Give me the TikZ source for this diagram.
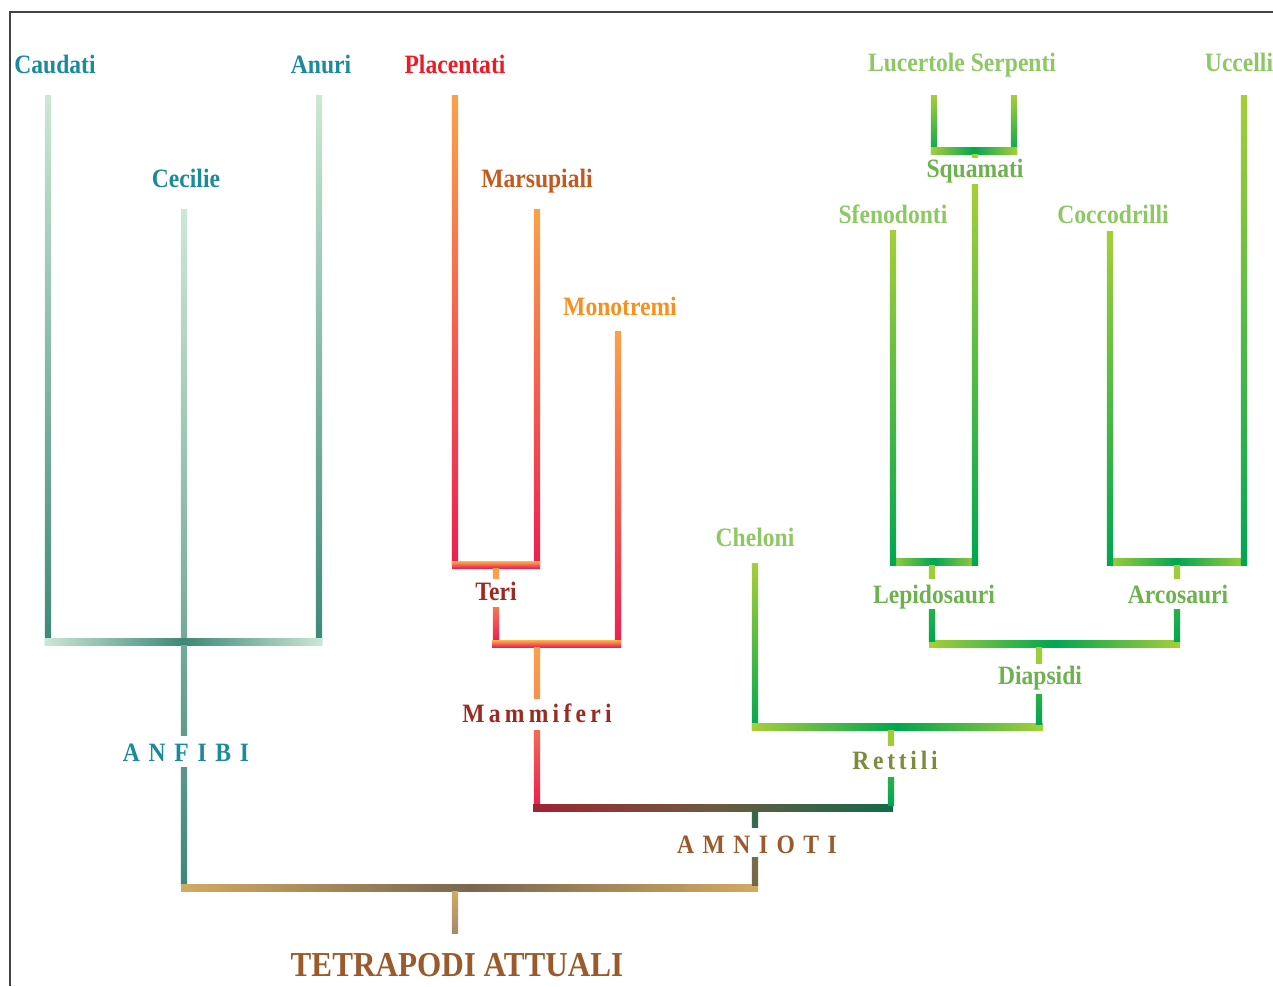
\documentclass[tikz,border=0pt]{standalone}
\usepackage{fontspec}
\setmainfont{Liberation Serif}[FakeStretch=0.89]
\definecolor{aL}{HTML}{CCE7D5}
\definecolor{aD}{HTML}{3D8877}
\definecolor{aM}{HTML}{74AA9A}
\definecolor{aM2}{HTML}{5F9B8B}
\definecolor{aM3}{HTML}{5A978A}
\definecolor{tT}{HTML}{D2AA62}
\definecolor{tB}{HTML}{7A6650}
\definecolor{tS}{HTML}{A8896A}
\definecolor{mO}{HTML}{F9A24A}
\definecolor{mO2}{HTML}{F8A04C}
\definecolor{mO3}{HTML}{F79050}
\definecolor{mR}{HTML}{ED1E52}
\definecolor{mS1}{HTML}{F47858}
\definecolor{mS2}{HTML}{F26B55}
\definecolor{amL}{HTML}{9E2332}
\definecolor{amM}{HTML}{6E5A40}
\definecolor{amR}{HTML}{13694A}
\definecolor{amS1}{HTML}{2D6A48}
\definecolor{amS2}{HTML}{3C6A4C}
\definecolor{amS3}{HTML}{7A6A4C}
\definecolor{amS4}{HTML}{756849}
\definecolor{rY}{HTML}{A6CE39}
\definecolor{rG}{HTML}{00A651}
\definecolor{rS}{HTML}{A0CC3A}
\definecolor{rS2}{HTML}{2AB04A}
\definecolor{cAmph}{HTML}{1A8A9C}
\definecolor{cPlac}{HTML}{ED1C24}
\definecolor{cMars}{HTML}{C25A1F}
\definecolor{cMono}{HTML}{F7901E}
\definecolor{cMamm}{HTML}{9B2B22}
\definecolor{cRepL}{HTML}{8DC865}
\definecolor{cRepD}{HTML}{6DB24E}
\definecolor{cRett}{HTML}{7E8A3C}
\definecolor{cBrown}{HTML}{9A5A2B}
\definecolor{frameC}{HTML}{444444}
\newcommand\myvseg[5]{\shade[top color=#4,bottom color=#5] ({#1-3.2},#2) rectangle ({#1+3.2},#3);}
\newcommand\myhseg[6]{\shade[left color=#5,right color=#6,middle color=#4] (#1,{#2-3.1}) rectangle (#3,{#2+3.1});}
\newcommand\myhsegv[5]{\shade[top color=#4,bottom color=#5] (#1,{#2-3.1}) rectangle (#3,{#2+3.1});}
\tikzset{
  lbl/.style={anchor=base, inner sep=0pt, font=\bfseries\fontsize{26.5}{30}\selectfont},
  spaced/.style={anchor=base, inner sep=0pt, font=\bfseries\fontsize{26.5}{30}\selectfont\addfontfeatures{LetterSpace=#1}},
  big/.style={anchor=base, inner sep=0pt, font=\bfseries\fontsize{35}{40}\selectfont}
}
\begin{document}
\begin{tikzpicture}[x=1pt,y=-1pt]
\useasboundingbox (0,0) rectangle (1273,986);
\fill[white] (0,0) rectangle (1273,986);
% frame (top and left)
\draw[frameC, line width=1.3pt] (10,986) -- (10,12) -- (1273,12);

% ---------- Amphibians ----------
\myvseg{48}{95}{645}{aL}{aD}
\myvseg{319}{95}{645}{aL}{aD}
\myvseg{184}{209}{639}{aL}{aM}
\myhseg{45}{642}{322}{aD}{aL}{aL}
\myvseg{184}{645}{735}{aM}{aM2}
\myvseg{184}{767}{885}{aM3}{aD}
% tetrapod bar
\myhseg{181}{888}{758}{tB}{tT}{tT}
\myvseg{455}{891}{933}{tT}{tS}

% ---------- Mammals ----------
\myvseg{455}{95}{565}{mO}{mR}
\myvseg{537}{209}{565}{mO}{mR}
\myhsegv{452}{565}{540}{mO}{mR}
\myvseg{496}{568}{578}{mO2}{mO2}
\myvseg{496}{607}{641}{mS1}{mR}
\myvseg{618}{331}{647}{mO}{mR}
\myhsegv{492}{644}{621}{mO}{mR}
\myvseg{537}{647}{698}{mO2}{mO3}
\myvseg{537}{730}{805}{mS2}{mR}
% amniote bar
\myhseg{533}{808}{893}{amM}{amL}{amR}
\myvseg{755}{811}{827}{amS1}{amS2}
\myvseg{755}{857}{885}{amS3}{amS4}

% ---------- Reptiles ----------
\myvseg{755}{563}{730}{rY}{rG}
\myhseg{752}{727}{1043}{rG}{rY}{rY}
\myvseg{891}{730}{745}{rS}{rS}
\myvseg{891}{777}{805}{rS2}{rG}
\myhseg{929}{644}{1180}{rG}{rY}{rY}
\myvseg{1039}{647}{663}{rS}{rS}
\myvseg{1039}{694}{724}{rS2}{rG}
\myhseg{890}{562}{978}{rG}{rY}{rY}
\myhseg{1107}{562}{1247}{rG}{rY}{rY}
\myvseg{932}{565}{578}{rS}{rS}
\myvseg{932}{609}{641}{rS2}{rG}
\myvseg{1177}{565}{578}{rS}{rS}
\myvseg{1177}{609}{641}{rS2}{rG}
\myvseg{893}{230}{565}{rY}{rG}
\myvseg{975}{184}{565}{rY}{rG}
\myvseg{1110}{231}{565}{rY}{rG}
\myvseg{1244}{95}{565}{rY}{rG}
\myvseg{934}{95}{154}{rY}{rG}
\myvseg{1014}{95}{154}{rY}{rG}
\myhseg{931}{151}{1017}{rG}{rY}{rY}
\myvseg{975}{154}{157}{rY}{rY}

% ---------- Labels ----------
\node[lbl, text=cAmph] (caudati) at (55,73) {Caudati};
\node[lbl, text=cAmph] (anuri) at (321,73) {Anuri};
\node[lbl, text=cAmph] (cecilie) at (186,187) {Cecilie};
\node[spaced=33, text=cAmph] (anfibi) at (186,761) {ANFIBI};
\node[lbl, text=cPlac] (placentati) at (455,73) {Placentati};
\node[lbl, text=cMars] (marsupiali) at (537,187) {Marsupiali};
\node[lbl, text=cMono] (monotremi) at (620,315) {Monotremi};
\node[lbl, text=cMamm] (teri) at (496,600) {Teri};
\node[spaced=16, text=cMamm] (mammiferi) at (537,722) {Mammiferi};
\node[lbl, text=cRepL] (lucertole) at (962,71) {Lucertole Serpenti};
\node[lbl, text=cRepL] (uccelli) at (1239,71) {Uccelli};
\node[lbl, text=cRepD] (squamati) at (975,177) {Squamati};
\node[lbl, text=cRepL] (sfenodonti) at (893,223) {Sfenodonti};
\node[lbl, text=cRepL] (coccodrilli) at (1113,223) {Coccodrilli};
\node[lbl, text=cRepL] (cheloni) at (755,546) {Cheloni};
\node[lbl, text=cRepD] (lepidosauri) at (934,603) {Lepidosauri};
\node[lbl, text=cRepD] (arcosauri) at (1178,603) {Arcosauri};
\node[lbl, text=cRepD] (diapsidi) at (1040,684) {Diapsidi};
\node[spaced=14, text=cRett] (rettili) at (895,769) {Rettili};
\node[spaced=32, text=cBrown] (amnioti) at (757,853) {AMNIOTI};
\node[big, text=cBrown] (tetrapodi) at (457,976) {TETRAPODI ATTUALI};
\end{tikzpicture}
\end{document}
